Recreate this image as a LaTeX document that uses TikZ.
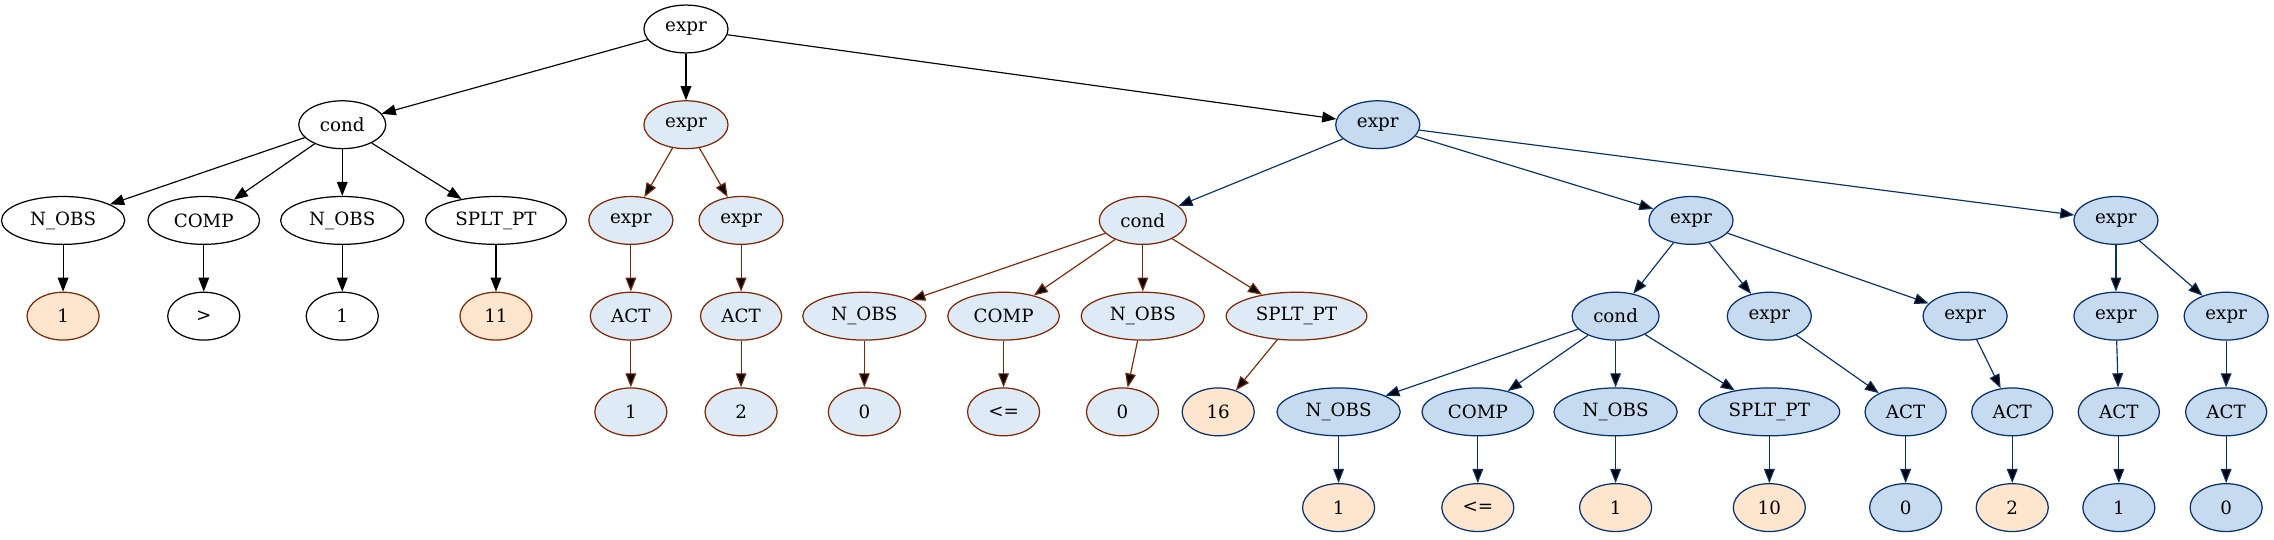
\documentclass[tikz,border=0pt]{standalone}
\usepackage{fontspec}
\setmainfont{DejaVu Serif}
\usetikzlibrary{shapes.geometric,arrows.meta}

\definecolor{brun}{HTML}{7F2704}
\definecolor{bleumarin}{HTML}{08306B}
\definecolor{albastrudes}{HTML}{DEEBF7}
\definecolor{albastru}{HTML}{C6DBEF}
\definecolor{piersica}{HTML}{FEE6CE}

\tikzset{
  nod/.style={ellipse, draw, line width=0.85pt, inner sep=0pt,
    minimum width=49.7pt, minimum height=33pt,
    font=\fontsize{12.6}{14}\selectfont},
  simplu/.style={nod, draw=black, fill=white},
  pal/.style={nod, draw=brun, fill=albastrudes},
  plin/.style={nod, draw=bleumarin, fill=albastru},
  frunzab/.style={nod, draw=brun, fill=piersica},
  frunzan/.style={nod, draw=bleumarin, fill=piersica},
  lat/.style={minimum width=#1pt},
  sageata/.style={-{Triangle[length=9.7pt,width=7.4pt]}, line width=0.8pt},
}

\begin{document}
\begin{tikzpicture}[x=1pt, y=-1pt]
  \useasboundingbox (0,0) rectangle (1568,372);

  % rădăcina și primul nivel
  \node[simplu, lat=58] (r) at (473,20) {expr};
  \node[simplu, lat=60] (c1) at (236,86) {cond};
  \node[pal, lat=58] (e1) at (473,86) {expr};
  \node[plin, lat=58] (e2) at (950,86) {expr};

  % nivelul 2
  \node[simplu, lat=85] (a1) at (43.5,152) {N\_OBS};
  \node[simplu, lat=77] (a2) at (140.5,152) {COMP};
  \node[simplu, lat=85] (a3) at (236,152) {N\_OBS};
  \node[simplu, lat=97] (a4) at (342,152) {SPLT\_PT};
  \node[pal, lat=58] (e11) at (435,152) {expr};
  \node[pal, lat=58] (e12) at (511,152) {expr};
  \node[pal, lat=60] (c2) at (788,152) {cond};
  \node[plin, lat=58] (e21) at (1166,152) {expr};
  \node[plin, lat=58] (e22) at (1459,152) {expr};

  % nivelul 3
  \node[frunzab] (f1) at (43.5,218) {1};
  \node[simplu] (f2) at (140.5,218) {>};
  \node[simplu] (f3) at (236,218) {1};
  \node[frunzab] (f4) at (342,218) {11};
  \node[pal, lat=56] (t1) at (435,218) {ACT};
  \node[pal, lat=56] (t2) at (511,218) {ACT};
  \node[pal, lat=85] (b1) at (596,218) {N\_OBS};
  \node[pal, lat=77] (b2) at (692,218) {COMP};
  \node[pal, lat=85] (b3) at (788,218) {N\_OBS};
  \node[pal, lat=97] (b4) at (894,218) {SPLT\_PT};
  \node[plin, lat=60] (c3) at (1114,218) {cond};
  \node[plin, lat=58] (e211) at (1220,218) {expr};
  \node[plin, lat=58] (e212) at (1355,218) {expr};
  \node[plin, lat=58] (e221) at (1459,218) {expr};
  \node[plin, lat=58] (e222) at (1535,218) {expr};

  % nivelul 4
  \node[pal] (g1) at (435,284) {1};
  \node[pal] (g2) at (511,284) {2};
  \node[pal] (g3) at (596,284) {0};
  \node[pal] (g4) at (692,284) {<=};
  \node[pal] (g5) at (774,284) {0};
  \node[frunzan] (g6) at (840,284) {16};
  \node[plin, lat=85] (d1) at (923,284) {N\_OBS};
  \node[plin, lat=77] (d2) at (1019,284) {COMP};
  \node[plin, lat=85] (d3) at (1114,284) {N\_OBS};
  \node[plin, lat=97] (d4) at (1220,284) {SPLT\_PT};
  \node[plin, lat=56] (t3) at (1314,284) {ACT};
  \node[plin, lat=56] (t4) at (1387.5,284) {ACT};
  \node[plin, lat=56] (t5) at (1461,284) {ACT};
  \node[plin, lat=56] (t6) at (1535,284) {ACT};

  % nivelul 5
  \node[frunzan] (h1) at (923,350) {1};
  \node[frunzan] (h2) at (1019,350) {<=};
  \node[frunzan] (h3) at (1114,350) {1};
  \node[frunzan] (h4) at (1220,350) {10};
  \node[plin] (h5) at (1314,350) {0};
  \node[frunzan] (h6) at (1387.5,350) {2};
  \node[plin] (h7) at (1461,350) {1};
  \node[plin] (h8) at (1535,350) {0};

  % muchiile
  \path[sageata, draw=black] (r) edge (c1) edge (e1) edge (e2)
    (c1) edge (a1) edge (a2) edge (a3) edge (a4)
    (a1) edge (f1) (a2) edge (f2) (a3) edge (f3) (a4) edge (f4);
  \path[sageata, draw=brun] (e1) edge (e11) edge (e12)
    (e11) edge (t1) (e12) edge (t2) (t1) edge (g1) (t2) edge (g2)
    (c2) edge (b1) edge (b2) edge (b3) edge (b4)
    (b1) edge (g3) (b2) edge (g4) (b3) edge (g5) (b4) edge (g6);
  \path[sageata, draw=bleumarin] (e2) edge (c2) edge (e21) edge (e22)
    (e21) edge (c3) edge (e211) edge (e212)
    (e22) edge (e221) edge (e222)
    (c3) edge (d1) edge (d2) edge (d3) edge (d4)
    (e211) edge (t3) (e212) edge (t4) (e221) edge (t5) (e222) edge (t6)
    (d1) edge (h1) (d2) edge (h2) (d3) edge (h3) (d4) edge (h4)
    (t3) edge (h5) (t4) edge (h6) (t5) edge (h7) (t6) edge (h8);
\end{tikzpicture}
\end{document}
